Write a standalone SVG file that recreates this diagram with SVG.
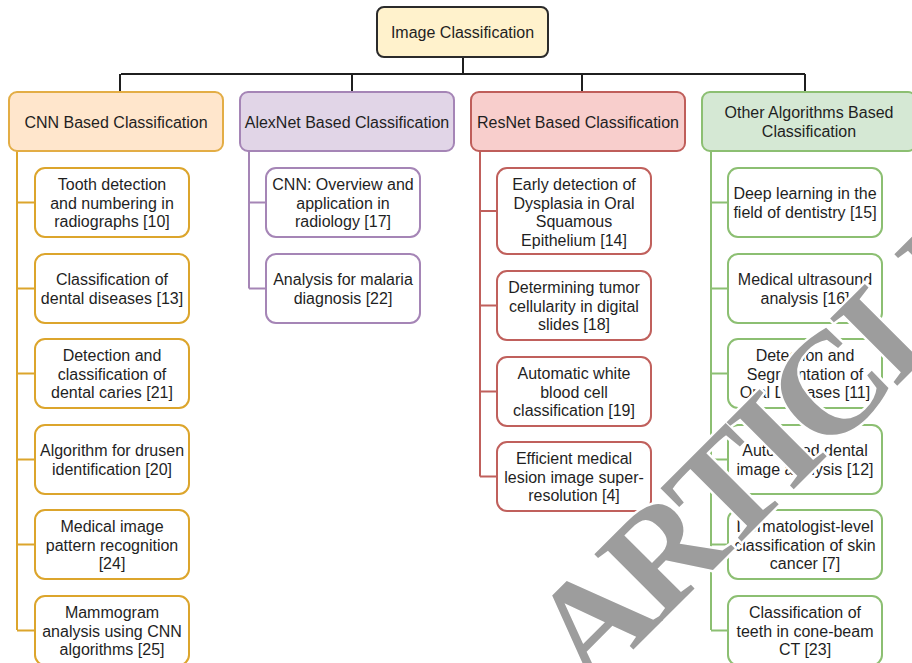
<svg xmlns="http://www.w3.org/2000/svg" width="912" height="663" viewBox="0 0 912 663">
<style>
text{font-family:"Liberation Sans",Arial,Helvetica,sans-serif;font-size:16px;fill:#1f1f1f;text-anchor:middle}
.box{stroke-width:2}
.root{fill:#fff2cc;stroke:#2b2b2b}
.cnnH{fill:#ffe6cc;stroke:#e3ad45}
.cnn{fill:#fff;stroke:#dca52c}
.alxH{fill:#e1d5e7;stroke:#a585b6}
.alx{fill:#fff;stroke:#a585b6}
.resH{fill:#f8cecc;stroke:#bf5e5a}
.res{fill:#fff;stroke:#c0605c}
.othH{fill:#d5e8d4;stroke:#8cbf72}
.oth{fill:#fff;stroke:#8cbf72}
.l{fill:none;stroke-width:2}
.wm{font-family:"Liberation Serif","Times New Roman",serif;font-weight:bold;font-size:145px;fill:#9d9d9d;stroke:#fff;stroke-width:5;paint-order:stroke;text-anchor:start;letter-spacing:-6px}
</style>
<rect width="912" height="663" fill="#fff"/>
<g id="connectors">
<path class="l" stroke="#1f1f1f" d="M463 57V74M121 74H805M120 74V92M352 74V92M582 74V92M805 74V92"/>
<path class="l" stroke="#dca52c" d="M17 151V630M17 202.5H35M17 288.5H35M17 373.5H35M17 459.5H35M17 544.5H35M17 630.5H35"/>
<path class="l" stroke="#a585b6" d="M249 151V288.5M249 202.5H266M249 288.5H266"/>
<path class="l" stroke="#c0605c" d="M480 151V476.5M480 211H497M480 305.5H497M480 391.5H497M480 476.5H497"/>
<path class="l" stroke="#8cbf72" d="M711 151V630M711 202.5H728M711 288.5H728M711 373.5H728M711 459.5H728M711 544.5H728M711 630.5H728"/>
</g>
<g id="root"><rect class="box root" x="377" y="7" width="171" height="50" rx="7"/><text x="462.5" y="38">Image Classification</text></g>
<g id="cnn"><rect class="box cnnH" x="9" y="92" width="214" height="59" rx="8"/><text x="116" y="127.5">CNN Based Classification</text></g>
<g id="alexnet"><rect class="box alxH" x="240" y="92" width="214" height="59" rx="8"/><text x="347" y="127.5">AlexNet Based Classification</text></g>
<g id="resnet"><rect class="box resH" x="471" y="92" width="214" height="59" rx="8"/><text x="578" y="127.5">ResNet Based Classification</text></g>
<g id="other"><rect class="box othH" x="702" y="92" width="214" height="59" rx="8"/><text x="809" y="118">Other Algorithms Based</text><text x="809" y="136.5">Classification</text></g>

<g id="cnn1"><rect class="box cnn" x="35" y="168" width="154" height="69" rx="10"/><text x="112" y="190">Tooth detection</text><text x="112" y="208.5">and numbering in</text><text x="112" y="227">radiographs [10]</text></g>
<g id="cnn2"><rect class="box cnn" x="35" y="254" width="154" height="69" rx="10"/><text x="112" y="285">Classification of</text><text x="112" y="303.5">dental diseases [13]</text></g>
<g id="cnn3"><rect class="box cnn" x="35" y="339" width="154" height="69" rx="10"/><text x="112" y="361">Detection and</text><text x="112" y="379.5">classification of</text><text x="112" y="398">dental caries [21]</text></g>
<g id="cnn4"><rect class="box cnn" x="35" y="425" width="154" height="69" rx="10"/><text x="112" y="456">Algorithm for drusen</text><text x="112" y="474.5">identification [20]</text></g>
<g id="cnn5"><rect class="box cnn" x="35" y="510" width="154" height="69" rx="10"/><text x="112" y="532">Medical image</text><text x="112" y="550.5">pattern recognition</text><text x="112" y="569">[24]</text></g>
<g id="cnn6"><rect class="box cnn" x="35" y="596" width="154" height="69" rx="10"/><text x="112" y="618">Mammogram</text><text x="112" y="636.5">analysis using CNN</text><text x="112" y="655">algorithms [25]</text></g>

<g id="alx1"><rect class="box alx" x="266" y="168" width="154" height="69" rx="10"/><text x="343" y="190">CNN: Overview and</text><text x="343" y="208.5">application in</text><text x="343" y="227">radiology [17]</text></g>
<g id="alx2"><rect class="box alx" x="266" y="254" width="154" height="69" rx="10"/><text x="343" y="285">Analysis for malaria</text><text x="343" y="303.5">diagnosis [22]</text></g>

<g id="res1"><rect class="box res" x="497" y="168" width="154" height="86" rx="10"/><text x="574" y="190">Early detection of</text><text x="574" y="208.5">Dysplasia in Oral</text><text x="574" y="227">Squamous</text><text x="574" y="245.5">Epithelium [14]</text></g>
<g id="res2"><rect class="box res" x="497" y="271" width="154" height="69" rx="10"/><text x="574" y="293">Determining tumor</text><text x="574" y="311.5">cellularity in digital</text><text x="574" y="330">slides [18]</text></g>
<g id="res3"><rect class="box res" x="497" y="357" width="154" height="69" rx="10"/><text x="574" y="379">Automatic white</text><text x="574" y="397.5">blood cell</text><text x="574" y="416">classification [19]</text></g>
<g id="res4"><rect class="box res" x="497" y="442" width="154" height="69" rx="10"/><text x="574" y="464">Efficient medical</text><text x="574" y="482.5">lesion image super-</text><text x="574" y="501">resolution [4]</text></g>

<g id="oth1"><rect class="box oth" x="728" y="168" width="154" height="69" rx="10"/><text x="805" y="199">Deep learning in the</text><text x="805" y="217.5">field of dentistry [15]</text></g>
<g id="oth2"><rect class="box oth" x="728" y="254" width="154" height="69" rx="10"/><text x="805" y="285">Medical ultrasound</text><text x="805" y="303.5">analysis [16]</text></g>
<g id="oth3"><rect class="box oth" x="728" y="339" width="154" height="69" rx="10"/><text x="805" y="361">Detection and</text><text x="805" y="379.5">Segmentation of</text><text x="805" y="398">Oral Diseases [11]</text></g>
<g id="oth4"><rect class="box oth" x="728" y="425" width="154" height="69" rx="10"/><text x="805" y="456">Automated dental</text><text x="805" y="474.5">image analysis [12]</text></g>
<g id="oth5"><rect class="box oth" x="728" y="510" width="154" height="69" rx="10"/><text x="805" y="532">Dermatologist-level</text><text x="805" y="550.5">classification of skin</text><text x="805" y="569">cancer [7]</text></g>
<g id="oth6"><rect class="box oth" x="728" y="596" width="154" height="69" rx="10"/><text x="805" y="618">Classification of</text><text x="805" y="636.5">teeth in cone-beam</text><text x="805" y="655">CT [23]</text></g>

<text class="wm" x="590" y="693" transform="rotate(-45 590 693)">ARTICLE</text>
</svg>
